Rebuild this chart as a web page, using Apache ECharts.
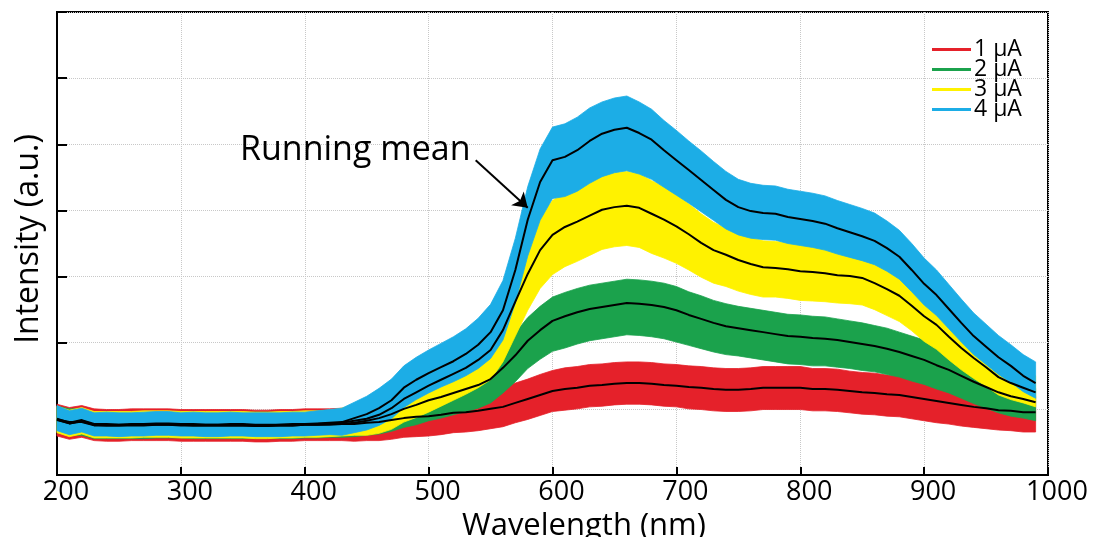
<!DOCTYPE html>
<html><head><meta charset="utf-8">
<script src="https://cdn.jsdelivr.net/npm/echarts@6/dist/echarts.min.js"></script>
<style>html,body{margin:0;padding:0;background:#fff}#c{width:1096px;height:537px}</style>
</head><body><div id="c"></div><script>
const wavelengths = [200,210,220,230,240,250,260,270,280,290,300,310,320,330,340,350,360,370,380,390,400,410,420,430,440,450,460,470,480,490,500,510,520,530,540,550,560,570,580,590,600,610,620,630,640,650,660,670,680,690,700,710,720,730,740,750,760,770,780,790,800,810,820,830,840,850,860,870,880,890,900,910,920,930,940,950,960,970,980,990];
const xTicks = [200,300,400,500,600,700,800,900,1000];
const seriesNames = ['1 μA','2 μA','3 μA','4 μA'];

// running means (a.u.)
const redMean = [0.83,0.78,0.81,0.76,0.75,0.75,0.76,0.76,0.76,0.76,0.75,0.75,0.75,0.75,0.75,0.75,0.74,0.74,0.75,0.75,0.76,0.76,0.76, 0.77,0.77,0.79,0.80,0.83,0.86,0.88,0.89,0.91,0.94,0.95,0.97,1.00, 1.03,1.09,1.15,1.21,1.27, 1.30,1.32,1.35,1.36,1.38,1.39,1.39,1.38,1.36,1.35, 1.33,1.32,1.30,1.29,1.29,1.30,1.32,1.32,1.32,1.32, 1.30,1.30,1.29,1.27,1.25,1.24,1.22,1.21,1.18,1.15, 1.12,1.09,1.06,1.03,1.01,0.98,0.97,0.95,0.95];
const greenMean = [0.84,0.80,0.80,0.75,0.75,0.75,0.75,0.75,0.76,0.76,0.76,0.75,0.75,0.75,0.75,0.75,0.75,0.75,0.75,0.75,0.76,0.76,0.77, 0.77,0.79,0.82,0.86,0.92,1.00,1.06,1.13,1.18,1.24,1.30,1.36,1.45, 1.62,1.81,2.03,2.19,2.33, 2.40,2.46,2.51,2.54,2.57,2.60,2.59,2.57,2.54,2.49, 2.42,2.36,2.30,2.25,2.22,2.19,2.16,2.13,2.10,2.09, 2.07,2.06,2.04,2.01,1.98,1.95,1.91,1.86,1.80,1.74, 1.66,1.59,1.50,1.41,1.33,1.25,1.19,1.15,1.10];
const yellowMean = [0.84,0.78,0.82,0.76,0.76,0.76,0.76,0.77,0.77,0.77,0.76,0.76,0.76,0.76,0.76,0.76,0.75,0.75,0.76,0.76,0.77,0.77,0.78, 0.79,0.82,0.85,0.91,1.01,1.15,1.25,1.35,1.44,1.53,1.62,1.74,1.89, 2.19,2.62,3.04,3.40,3.63, 3.75,3.83,3.92,4.01,4.05,4.07,4.04,3.95,3.86,3.76, 3.64,3.51,3.40,3.33,3.25,3.19,3.14,3.13,3.11,3.08, 3.07,3.05,3.02,3.01,2.98,2.90,2.81,2.71,2.56,2.40, 2.27,2.09,1.92,1.77,1.63,1.48,1.39,1.32,1.25];
const blueMean = [0.85,0.79,0.83,0.77,0.77,0.76,0.77,0.77,0.78,0.78,0.77,0.77,0.76,0.76,0.77,0.77,0.76,0.76,0.76,0.77,0.77,0.78,0.79, 0.80,0.86,0.92,1.01,1.13,1.32,1.44,1.54,1.63,1.72,1.83,1.97,2.16, 2.49,3.10,3.86,4.43,4.76, 4.81,4.91,5.05,5.16,5.22,5.25,5.17,5.07,4.91,4.76, 4.61,4.46,4.31,4.16,4.05,3.99,3.96,3.95,3.90,3.87, 3.84,3.80,3.73,3.67,3.61,3.54,3.43,3.30,3.10,2.89, 2.72,2.51,2.30,2.10,1.94,1.78,1.65,1.50,1.39];

// spread of the dense noisy band above / below each running mean (a.u.)
const redUp = [0.24,0.24,0.24,0.24,0.24,0.24,0.24,0.24,0.24,0.24,0.24,0.24,0.24,0.24,0.24,0.24,0.24,0.24,0.24,0.24,0.24,0.24,0.24, 0.24,0.24,0.24,0.24,0.25,0.25,0.26,0.26,0.27,0.27,0.28,0.28,0.29, 0.29,0.30,0.30,0.31,0.31, 0.32,0.32,0.32,0.32,0.32,0.32,0.32,0.32,0.32,0.32, 0.32,0.32,0.32,0.32,0.32,0.32,0.32,0.32,0.32,0.32, 0.31,0.31,0.31,0.30,0.30,0.30,0.29,0.29,0.28,0.28, 0.27,0.27,0.26,0.26,0.25,0.25,0.24,0.24,0.24];
const redDown = [0.24,0.24,0.24,0.24,0.24,0.24,0.24,0.24,0.24,0.24,0.24,0.24,0.24,0.24,0.24,0.24,0.24,0.24,0.24,0.24,0.24,0.24,0.24, 0.25,0.26,0.27,0.28,0.29,0.29,0.30,0.30,0.30,0.30,0.30,0.30,0.30, 0.30,0.30,0.31,0.31,0.31, 0.32,0.32,0.32,0.32,0.32,0.32,0.32,0.32,0.32,0.32, 0.33,0.33,0.33,0.33,0.33,0.33,0.33,0.33,0.33,0.33, 0.33,0.33,0.33,0.33,0.33,0.33,0.33,0.33,0.33,0.33, 0.33,0.32,0.32,0.31,0.31,0.30,0.30,0.30,0.30];
const greenUp = [0.20,0.20,0.20,0.20,0.20,0.20,0.20,0.20,0.20,0.20,0.20,0.20,0.20,0.20,0.20,0.20,0.20,0.20,0.20,0.20,0.20,0.20,0.20, 0.20,0.21,0.22,0.23,0.24,0.25,0.26,0.27,0.28,0.29,0.30,0.31,0.32, 0.33,0.34,0.35,0.36,0.36, 0.36,0.36,0.36,0.36,0.36,0.36,0.36,0.36,0.36,0.36, 0.35,0.35,0.34,0.34,0.33,0.33,0.33,0.33,0.33,0.33, 0.33,0.33,0.32,0.32,0.32,0.31,0.31,0.30,0.30,0.30, 0.29,0.28,0.27,0.26,0.25,0.24,0.23,0.22,0.21];
const greenDown = [0.20,0.20,0.20,0.20,0.20,0.20,0.20,0.20,0.20,0.20,0.20,0.20,0.20,0.20,0.20,0.20,0.20,0.20,0.20,0.20,0.20,0.20,0.20, 0.20,0.21,0.22,0.24,0.26,0.28,0.30,0.31,0.32,0.33,0.34,0.35,0.36, 0.38,0.40,0.42,0.44,0.46, 0.48,0.48,0.48,0.48,0.48,0.48,0.48,0.48,0.48,0.48, 0.46,0.45,0.44,0.43,0.42,0.42,0.42,0.42,0.42,0.42, 0.42,0.41,0.41,0.40,0.40,0.39,0.39,0.38,0.38,0.37, 0.36,0.35,0.34,0.33,0.32,0.31,0.30,0.29,0.28];
const yellowUp = [0.20,0.20,0.20,0.20,0.20,0.20,0.20,0.20,0.20,0.20,0.20,0.20,0.20,0.20,0.20,0.20,0.20,0.20,0.20,0.20,0.20,0.20,0.20, 0.22,0.25,0.28,0.30,0.32,0.33,0.34,0.35,0.36,0.37,0.38,0.40,0.42, 0.45,0.48,0.50,0.52,0.52, 0.52,0.52,0.52,0.52,0.52,0.52,0.52,0.50,0.50,0.48, 0.46,0.44,0.42,0.40,0.40,0.40,0.40,0.40,0.40,0.40, 0.40,0.40,0.40,0.40,0.40,0.39,0.39,0.39,0.38,0.38, 0.36,0.35,0.34,0.33,0.32,0.30,0.28,0.26,0.25];
const yellowDown = [0.20,0.20,0.20,0.20,0.20,0.20,0.20,0.20,0.20,0.20,0.20,0.20,0.20,0.20,0.20,0.20,0.20,0.20,0.20,0.20,0.20,0.20,0.20, 0.20,0.22,0.25,0.28,0.32,0.35,0.38,0.40,0.40,0.40,0.40,0.42,0.45, 0.48,0.52,0.55,0.58,0.60, 0.60,0.60,0.60,0.60,0.60,0.60,0.60,0.60,0.58,0.56, 0.54,0.52,0.50,0.48,0.47,0.46,0.45,0.44,0.44,0.44, 0.44,0.43,0.42,0.42,0.41,0.40,0.40,0.39,0.38,0.38, 0.37,0.35,0.33,0.31,0.29,0.27,0.25,0.23,0.22];
const blueUp = [0.20,0.18,0.18,0.17,0.18,0.18,0.17,0.18,0.18,0.18,0.17,0.18,0.18,0.18,0.18,0.17,0.18,0.18,0.18,0.18,0.18,0.19,0.20, 0.21,0.24,0.27,0.30,0.32,0.33,0.34,0.35,0.36,0.37,0.38,0.40,0.42, 0.45,0.48,0.50,0.50,0.50, 0.50,0.50,0.50,0.48,0.48,0.48,0.47,0.46,0.45,0.45, 0.44,0.44,0.43,0.43,0.42,0.42,0.42,0.42,0.42,0.42, 0.42,0.42,0.42,0.42,0.42,0.42,0.41,0.40,0.40,0.39, 0.38,0.37,0.36,0.35,0.34,0.33,0.32,0.32,0.32];
const blueDown = [0.18,0.18,0.18,0.18,0.18,0.18,0.18,0.18,0.18,0.18,0.18,0.18,0.18,0.18,0.18,0.18,0.18,0.18,0.18,0.18,0.18,0.18,0.18, 0.20,0.22,0.24,0.26,0.28,0.30,0.30,0.30,0.30,0.31,0.33,0.36,0.40, 0.45,0.50,0.55,0.58,0.58, 0.60,0.62,0.64,0.65,0.65,0.65,0.62,0.60,0.56,0.53, 0.50,0.48,0.46,0.44,0.42,0.41,0.40,0.40,0.40,0.40, 0.40,0.40,0.39,0.38,0.37,0.36,0.35,0.34,0.33,0.32, 0.31,0.30,0.29,0.28,0.27,0.26,0.25,0.24,0.23];

const COLORS = {red:'#e5212a', green:'#1ba24c', yellow:'#fff200', blue:'#1cade6'};
const FONT = '"Open Sans", "Noto Sans", sans-serif';

function pairs(ys){ return wavelengths.map((w,i)=>[w, ys[i]]); }

// noisy band drawn as one filled polygon between (mean - down) and (mean + up)
function bandSeries(name, color, mean, up, down){
  const data = wavelengths.map((w,i)=>[w, +(mean[i]-down[i]).toFixed(3), +(mean[i]+up[i]).toFixed(3)]);
  return {
    name:name, type:'custom', silent:true, z:2, itemStyle:{color:color},
    encode:{x:0, y:[1,2]},
    data:data,
    renderItem:function(params, api){
      if (params.dataIndex !== 0) return null;
      const pts = [];
      for (let i=0;i<data.length;i++) pts.push(api.coord([data[i][0], data[i][2]]));
      for (let i=data.length-1;i>=0;i--) pts.push(api.coord([data[i][0], data[i][1]]));
      return {type:'polygon', shape:{points:pts},
        style:{fill:color, stroke:color, lineWidth:0.8}};
    }
  };
}
function meanSeries(name, mean, extra){
  return Object.assign({name:name, type:'line', data:pairs(mean), symbol:'none', silent:true,
    lineStyle:{color:'#000', width:2}, itemStyle:{color:'#000'}, z:5}, extra||{});
}

const series = [
  bandSeries(seriesNames[0], COLORS.red, redMean, redUp, redDown),
  bandSeries(seriesNames[1], COLORS.green, greenMean, greenUp, greenDown),
  bandSeries(seriesNames[2], COLORS.yellow, yellowMean, yellowUp, yellowDown),
  bandSeries(seriesNames[3], COLORS.blue, blueMean, blueUp, blueDown),
  meanSeries('mean 1', redMean),
  meanSeries('mean 2', greenMean),
  meanSeries('mean 3', yellowMean),
  meanSeries('mean 4', blueMean, {
    markLine:{silent:true, symbol:['none','arrow'], symbolSize:14, label:{show:false},
      lineStyle:{color:'#000', width:2, type:'solid'},
      data:[[{coord:[538,4.76]},{coord:[580,4.04]}]]}
  })
];

const chart = echarts.init(document.getElementById('c'));
chart.setOption({
  animation:false,
  backgroundColor:'#fff',
  grid:{left:57, right:48, top:12, bottom:62, show:true, borderColor:'#000', borderWidth:2,
    backgroundColor:'transparent', containLabel:false, outerBoundsMode:'none'},
  legend:{
    data:[
      {name:seriesNames[0], icon:'rect', itemStyle:{color:COLORS.red}},
      {name:seriesNames[1], icon:'rect', itemStyle:{color:COLORS.green}},
      {name:seriesNames[2], icon:'rect', itemStyle:{color:COLORS.yellow}},
      {name:seriesNames[3], icon:'rect', itemStyle:{color:COLORS.blue}}
    ],
    orient:'vertical', left:927, top:33, itemWidth:39, itemHeight:3, itemGap:-3,
    selectedMode:false,
    textStyle:{fontSize:23, fontFamily:FONT, color:'#000', lineHeight:20, padding:[0,0,0,-2]}
  },
  xAxis:{
    type:'value', min:xTicks[0], max:xTicks[xTicks.length-1], interval:100,
    axisLine:{lineStyle:{color:'#000', width:2}},
    axisTick:{inside:true, length:8, lineStyle:{color:'#000', width:2}},
    axisLabel:{color:'#000', fontSize:27, fontFamily:FONT, margin:4, padding:[0,0,0,18],
      formatter:function(v){ return String(v); }},
    splitLine:{show:true, lineStyle:{color:'#c8c8c8', type:'dotted', width:1}},
    name:'Wavelength (nm)', nameLocation:'middle', nameGap:32,
    nameTextStyle:{fontSize:31, fontFamily:FONT, color:'#000', padding:[0,0,0,63]}
  },
  yAxis:{
    type:'value', min:0, max:7, interval:1,
    axisLine:{show:true, lineStyle:{color:'#000', width:2}},
    axisTick:{show:true, inside:true, length:10, lineStyle:{color:'#000', width:2}},
    axisLabel:{show:false},
    splitLine:{show:true, lineStyle:{color:'#c8c8c8', type:'dotted', width:1}},
    name:'Intensity (a.u.)', nameLocation:'middle', nameGap:12, nameRotate:90,
    nameTextStyle:{fontSize:32, fontFamily:FONT, color:'#000', padding:[0,0,0,9]}
  },
  graphic:[
    {type:'text', left:240, top:133, z:10, style:{text:'Running mean', font:'34px "Open Sans", sans-serif', fill:'#000'}}
  ],
  series:series
});
</script></body></html>
